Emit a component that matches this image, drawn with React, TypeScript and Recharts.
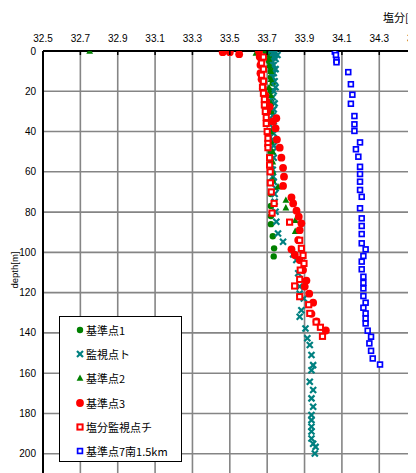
import React from "react";
import { ScatterChart, Scatter, XAxis, YAxis, CartesianGrid, Legend } from "recharts";

const saltTicks = [32.5, 32.7, 32.9, 33.1, 33.3, 33.5, 33.7, 33.9, 34.1, 34.3, 34.5];
const depthTicks = [0, 20, 40, 60, 80, 100, 120, 140, 160, 180, 200];

const st1Depth = [0, 1, 3, 5, 8, 10, 13, 16, 20, 25, 30, 35, 40, 45, 50, 55, 60, 65, 71, 77, 82, 86, 92, 98, 102];
const st1Salt = [33.69, 33.72, 33.72, 33.71, 33.72, 33.72, 33.72, 33.73, 33.72, 33.72, 33.72, 33.72, 33.72, 33.72, 33.72, 33.72, 33.72, 33.72, 33.72, 33.72, 33.72, 33.72, 33.73, 33.737, 33.735];

const toDepth = [0, 0.5, 1, 2, 3, 4, 5, 7, 9, 11, 13, 15, 18, 20, 23, 26, 29, 32, 35, 38, 41, 44, 47, 50, 53, 56.6, 59, 62.4, 65, 68.2, 71, 74.9, 79.8, 84.8, 90.6, 94.7, 101, 103.8, 110.4, 117, 120.4, 122.9, 128.7, 132, 137.8, 142.7, 146, 151, 156, 158.5, 164.3, 168.4, 172.5, 176.7, 180.8, 183.3, 186.6, 189, 192.4, 195, 196.6, 199.9];
const toSalt = [33.72, 33.745, 33.73, 33.755, 33.735, 33.745, 33.725, 33.735, 33.745, 33.735, 33.73, 33.74, 33.745, 33.735, 33.73, 33.74, 33.735, 33.73, 33.735, 33.73, 33.735, 33.73, 33.735, 33.73, 33.735, 33.723, 33.73, 33.731, 33.735, 33.745, 33.74, 33.74, 33.745, 33.749, 33.758, 33.785, 33.839, 33.856, 33.866, 33.874, 33.874, 33.896, 33.883, 33.874, 33.905, 33.915, 33.928, 33.937, 33.946, 33.937, 33.928, 33.946, 33.937, 33.946, 33.937, 33.937, 33.937, 33.937, 33.937, 33.946, 33.959, 33.955];

const st2Depth = [0, 1, 2, 4, 7, 10, 14, 18, 22, 26, 30, 35, 40, 45, 50, 55, 60, 64, 67.4, 74, 77.8, 84, 89.5];
const st2Salt = [32.75, 33.64, 33.70, 33.71, 33.71, 33.72, 33.72, 33.71, 33.72, 33.72, 33.72, 33.73, 33.72, 33.72, 33.73, 33.73, 33.73, 33.73, 33.758, 33.80, 33.80, 33.85, 33.85];

const st3Depth = [0.6, 0.6, 1.6, 0.3, 2.8, 5, 7, 11, 14, 18.5, 22, 25, 27.7, 30, 33.4, 35, 38.4, 44, 48, 53, 58, 62.4, 67, 72.7, 75.7, 79.3, 82.3, 85.6, 89, 93.9, 98.5, 101.3, 103.8, 108.8, 114, 117, 120.5, 125, 130.5, 134.3, 138.8];
const st3Salt = [33.462, 33.50, 33.55, 33.656, 33.66, 33.67, 33.664, 33.664, 33.67, 33.677, 33.69, 33.695, 33.713, 33.70, 33.749, 33.731, 33.745, 33.752, 33.767, 33.776, 33.785, 33.79, 33.785, 33.83, 33.839, 33.857, 33.869, 33.883, 33.874, 33.866, 33.83, 33.848, 33.874, 33.892, 33.910, 33.901, 33.925, 33.946, 33.937, 33.964, 34.014];

const chiDepth = [3, 6, 9, 12, 15, 18, 21, 24, 26.8, 30, 33, 36, 40, 43.4, 45.9, 48, 53, 56.6, 60, 65.5, 70, 75.7, 80.5, 85, 94, 98, 101.5, 105.5, 108.8, 113.4, 116.7, 122, 126, 130.3, 134.6, 137.2, 141.7];
const chiSalt = [33.68, 33.67, 33.68, 33.67, 33.68, 33.675, 33.68, 33.685, 33.685, 33.69, 33.695, 33.695, 33.70, 33.704, 33.704, 33.704, 33.713, 33.713, 33.716, 33.717, 33.722, 33.737, 33.726, 33.82, 33.874, 33.883, 33.892, 33.897, 33.877, 33.874, 33.847, 33.874, 33.922, 33.928, 33.962, 33.985, 33.996];

const st7Depth = [0.3, 2, 4.5, 5.6, 10.5, 16.5, 21.7, 26.2, 32.3, 36.4, 39.7, 45.4, 48.8, 52.5, 57.5, 61.1, 64.9, 69, 72.4, 78.1, 83.1, 86.9, 90.9, 95.5, 98.5, 101.8, 104.6, 108.4, 112.1, 115.1, 117.9, 121.7, 125, 127.5, 130.3, 132.8, 135.3, 138.9, 141.9, 145.2, 148.9, 152.7, 155.7];
const st7Salt = [34.062, 34.068, 34.071, 34.071, 34.134, 34.148, 34.156, 34.148, 34.167, 34.167, 34.167, 34.197, 34.175, 34.188, 34.197, 34.197, 34.197, 34.197, 34.206, 34.197, 34.206, 34.206, 34.206, 34.206, 34.227, 34.215, 34.206, 34.206, 34.215, 34.215, 34.215, 34.215, 34.227, 34.215, 34.227, 34.227, 34.227, 34.238, 34.256, 34.247, 34.256, 34.265, 34.304];

const seriesNames = ["基準点1", "監視点ト", "基準点2", "基準点3", "塩分監視点チ", "基準点7南1.5km"];

const zip = (d: number[], s: number[]) => d.map((dep, i) => ({ d: dep, v: s[i] }));

const FONT = "'Liberation Sans', Arial, sans-serif";
const JFONT = "'Noto Sans CJK JP', sans-serif";

type MK = (cx: number, cy: number) => React.ReactElement;
const markers: MK[] = [
  (cx, cy) => <circle cx={cx} cy={cy} r={3.2} fill="#008000" />,
  (cx, cy) => (
    <g stroke="#008080" strokeWidth={2.2}>
      <line x1={cx - 3} y1={cy - 3} x2={cx + 3} y2={cy + 3} />
      <line x1={cx - 3} y1={cy + 3} x2={cx + 3} y2={cy - 3} />
    </g>
  ),
  (cx, cy) => <polygon points={`${cx},${cy - 3.6} ${cx - 3.4},${cy + 2.8} ${cx + 3.4},${cy + 2.8}`} fill="#008000" />,
  (cx, cy) => <circle cx={cx} cy={cy} r={3.9} fill="#FF0000" />,
  (cx, cy) => <rect x={cx - 2.6} y={cy - 2.6} width={5.2} height={5.2} fill="#fff" stroke="#FF0000" strokeWidth={2} />,
  (cx, cy) => <rect x={cx - 2.4} y={cy - 2.4} width={4.8} height={4.8} fill="#fff" stroke="#0000FF" strokeWidth={1.7} />,
];

const shapeOf = (i: number) => (p: any) => markers[i](p.cx, p.cy);

const XTick = (props: any) => {
  const { x, y, payload } = props;
  return (
    <g>
      <text x={x} y={y} textAnchor="middle" fontSize={10} fontFamily={FONT} fill="#000">
        {Number(payload.value).toFixed(1)}
      </text>
      <line x1={x} x2={x} y1={y + 9} y2={y + 13} stroke="#000" strokeWidth={1.5} />
    </g>
  );
};

const LegendBox = () => (
  <div
    style={{
      width: 123,
      height: 146,
      boxSizing: "border-box",
      border: "1.5px solid #000",
      background: "#fff",
      paddingTop: 1,
    }}
  >
    {seriesNames.map((n, i) => (
      <div key={n} style={{ height: 24.2, display: "flex", alignItems: "center", position: "relative" }}>
        <svg width={12} height={12} style={{ position: "absolute", left: 14 }}>
          {markers[i](6, 6)}
        </svg>
        <span style={{ position: "absolute", left: 26, fontSize: 11, fontFamily: JFONT, color: "#000", whiteSpace: "nowrap", lineHeight: "14px" }}>
          {n}
        </span>
      </div>
    ))}
  </div>
);

export default function App() {
  const sets = [
    zip(st1Depth, st1Salt),
    zip(toDepth, toSalt),
    zip(st2Depth, st2Salt),
    zip(st3Depth, st3Salt),
    zip(chiDepth, chiSalt),
    zip(st7Depth, st7Salt),
  ];
  return (
    <div style={{ position: "relative", width: 408, height: 465, overflow: "hidden", background: "#fff" }}>
      <ScatterChart width={452} height={490} margin={{ top: 13, right: 6, bottom: 4, left: 0 }}>
        <CartesianGrid stroke="#858585" strokeWidth={1.6} />
        <XAxis
          type="number"
          dataKey="v"
          orientation="top"
          domain={[32.5, 34.7]}
          ticks={saltTicks}
          allowDataOverflow
          height={30}
          tickSize={0}
          tickMargin={9}
          tick={<XTick />}
          axisLine={{ stroke: "#000", strokeWidth: 2 }}
          tickLine={false}
          interval={0}
        />
        <YAxis
          type="number"
          dataKey="d"
          reversed
          domain={[0, 220]}
          ticks={depthTicks}
          allowDataOverflow
          width={35}
          tickSize={0}
          tickMargin={7}
          tick={{ fontSize: 10, fill: "#000", fontFamily: FONT }}
          axisLine={{ stroke: "#000", strokeWidth: 2 }}
          tickLine={false}
          interval={0}
        />
        <Legend
          layout="vertical"
          align="center"
          verticalAlign="middle"
          content={<LegendBox />}
          wrapperStyle={{ left: 51, top: 308, width: 123, height: 146 }}
        />
        {sets.map((data, i) => (
          <Scatter
            key={seriesNames[i]}
            name={seriesNames[i]}
            data={data}
            shape={shapeOf(i)}
            isAnimationActive={false}
          />
        ))}
      </ScatterChart>
      <div style={{ position: "absolute", left: 375, top: 1, fontSize: 11, fontFamily: JFONT, color: "#000", whiteSpace: "nowrap", lineHeight: "16px" }}>
        塩分[‰]
      </div>
      <div
        style={{
          position: "absolute",
          left: 6,
          top: 262,
          fontSize: 9.5,
          fontFamily: FONT,
          color: "#000",
          whiteSpace: "nowrap",
          transform: "translate(-50%, -50%) rotate(-90deg)",
        }}
      >
        depth[m]
      </div>
    </div>
  );
}
